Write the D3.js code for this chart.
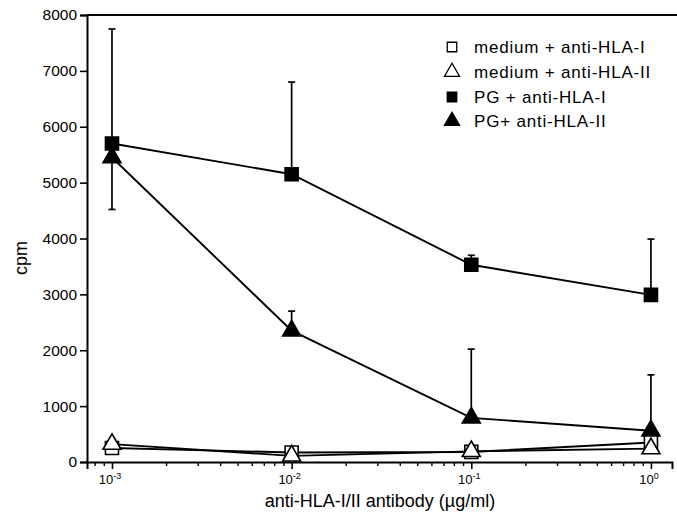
<!DOCTYPE html>
<html>
<head>
<meta charset="utf-8">
<script src="https://cdn.jsdelivr.net/npm/d3@7"></script>
<style>
  html, body { margin: 0; padding: 0; background: #fff; }
  svg { display: block; font-family: "Liberation Sans", Arial, Helvetica, sans-serif; }
</style>
</head>
<body>
<svg id="chart" width="677" height="523"></svg>
<script>
// antibody concentrations (µg/ml)
const doses = [0.001, 0.01, 0.1, 1];
const doseExponents = [-3, -2, -1, 0];

// proliferation (cpm) per condition
const mediumHLA1 = [250, 170, 180, 350];
const mediumHLA2 = [320, 110, 190, 240];
const pgHLA1 = [5700, 5150, 3530, 2990];
const pgHLA2 = [5450, 2350, 790, 560];

// error bars (cpm): upward and downward extents
const pgHLA1ErrUp = [2050, 1650, 170, 1000];
const pgHLA2ErrUp = [0, 350, 1230, 1000];
const pgHLA2ErrDown = [930, 0, 0, 0];

const yTicks = [0, 1000, 2000, 3000, 4000, 5000, 6000, 7000, 8000];

const svg = d3.select("#chart");

const x = d3.scaleLog().domain([7.26e-4, 1.31]).range([87, 672]);
const y = d3.scaleLinear().domain([0, 8000]).range([462, 15]);

// frame: top line
svg.append("line")
  .attr("x1", x.range()[0]).attr("x2", 677)
  .attr("y1", y(8000)).attr("y2", y(8000))
  .attr("stroke", "#000").attr("stroke-width", 1.8);

// y axis
const yAxis = d3.axisLeft(y).tickValues(yTicks).tickSize(7).tickPadding(3)
  .tickFormat(d3.format("d"));
const gy = svg.append("g").attr("transform", `translate(${x.range()[0]},0)`).call(yAxis);
gy.select(".domain").attr("stroke-width", 2);
gy.selectAll(".tick line").attr("stroke-width", 1.6);
gy.selectAll(".tick text").attr("font-size", 15.5).attr("fill", "#000");

// x axis: major + minor ticks
const xAxisMajor = d3.axisBottom(x).tickValues(doses).tickSize(7).tickFormat("");
const gx = svg.append("g").attr("transform", `translate(0,${y(0)})`).call(xAxisMajor);
gx.select(".domain").attr("stroke-width", 2);
gx.selectAll(".tick line").attr("stroke-width", 1.6);

const minorVals = [];
[-4, -3, -2, -1].forEach(e => {
  for (let m = 2; m <= 9; m++) {
    const v = m * Math.pow(10, e);
    if (v > x.domain()[0] && v < x.domain()[1]) minorVals.push(v);
  }
});
const gxm = svg.append("g").attr("transform", `translate(0,${y(0)})`)
  .call(d3.axisBottom(x).tickValues(minorVals).tickSize(4).tickFormat(""));
gxm.select(".domain").remove();
gxm.selectAll(".tick line").attr("stroke-width", 1.4);

// x tick labels as powers of ten
const labels = svg.append("g").selectAll("text").data(doses).join("text")
  .attr("x", d => x(d) - 2)
  .attr("y", 484)
  .attr("text-anchor", "middle")
  .attr("font-size", 13)
  .attr("fill", "#000");
labels.append("tspan").text("10");
labels.append("tspan").attr("dy", -5).attr("font-size", 9).text((d, i) => doseExponents[i]);

// axis titles
svg.append("text")
  .attr("x", 380).attr("y", 507)
  .attr("text-anchor", "middle").attr("font-size", 18).attr("fill", "#000")
  .text("anti-HLA-I/II antibody (µg/ml)");
svg.append("text")
  .attr("transform", `translate(27,258) rotate(-90)`)
  .attr("text-anchor", "middle").attr("font-size", 18).attr("fill", "#000")
  .text("cpm");

const line = d3.line().x((d, i) => x(doses[i])).y(d => y(d));

const series = [
  { key: "mediumHLA1", values: mediumHLA1, shape: "square", filled: false },
  { key: "mediumHLA2", values: mediumHLA2, shape: "triangle", filled: false },
  { key: "pgHLA1", values: pgHLA1, shape: "square", filled: true },
  { key: "pgHLA2", values: pgHLA2, shape: "triangle", filled: true }
];

// connecting lines
series.forEach(s => {
  svg.append("path").datum(s.values)
    .attr("d", line)
    .attr("fill", "none").attr("stroke", "#000").attr("stroke-width", 1.9);
});

// error bars
function errorBars(values, up, down) {
  const g = svg.append("g").attr("stroke", "#000").attr("stroke-width", 1.7);
  values.forEach((v, i) => {
    const cx = x(doses[i]);
    [[up[i], 1], [down ? down[i] : 0, -1]].forEach(([e, dir]) => {
      if (!e) return;
      const end = y(v + dir * e);
      g.append("line").attr("x1", cx).attr("x2", cx).attr("y1", y(v)).attr("y2", end);
      g.append("line").attr("x1", cx - 3.5).attr("x2", cx + 3.5).attr("y1", end).attr("y2", end);
    });
  });
}
errorBars(pgHLA1, pgHLA1ErrUp);
errorBars(pgHLA2, pgHLA2ErrUp, pgHLA2ErrDown);

const sq = d3.symbol().type(d3.symbolSquare).size(170);
const tri = d3.symbol().type(d3.symbolTriangle).size(140);

function drawMarkers(s) {
  svg.append("g").selectAll("path").data(s.values).join("path")
    .attr("transform", (d, i) => `translate(${x(doses[i])},${y(d)})`)
    .attr("d", s.shape === "square" ? sq : tri)
    .attr("fill", s.filled ? "#000" : "#fff")
    .attr("stroke", "#000").attr("stroke-width", 1.6);
}
// filled markers first, open triangles last
[series[2], series[3], series[0], series[1]].forEach(drawMarkers);

// legend
const legendRows = [
  { label: "medium + anti-HLA-I", shape: "square", filled: false },
  { label: "medium + anti-HLA-II", shape: "triangle", filled: false },
  { label: "PG + anti-HLA-I", shape: "square", filled: true },
  { label: "PG+ anti-HLA-II", shape: "triangle", filled: true }
];
const legendY = [47, 72, 97, 121];
const lg = svg.append("g");
legendRows.forEach((r, i) => {
  lg.append("path")
    .attr("transform", `translate(452,${legendY[i]})`)
    .attr("d", d3.symbol().type(r.shape === "square" ? d3.symbolSquare : d3.symbolTriangle)
      .size(r.shape === "square" ? 90 : 100)())
    .attr("fill", r.filled ? "#000" : "#fff")
    .attr("stroke", "#000").attr("stroke-width", 1.3);
  lg.append("text")
    .attr("x", 474).attr("y", legendY[i] + 6)
    .attr("font-size", 17).attr("letter-spacing", 0.8).attr("fill", "#000")
    .text(r.label);
});
</script>
</body>
</html>
